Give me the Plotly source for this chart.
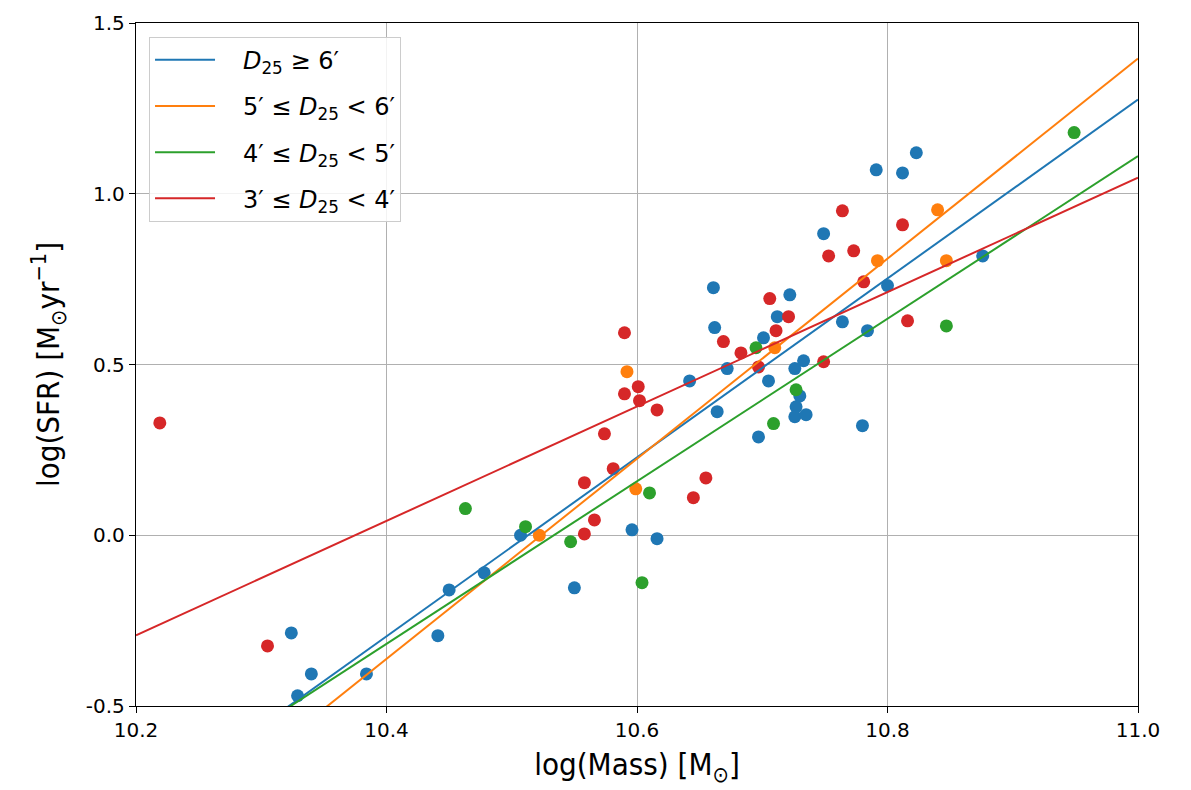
import plotly.graph_objects as go

# ---- data ----
blue_mass = [10.324, 10.329, 10.340, 10.384, 10.441, 10.450, 10.478, 10.507, 10.550, 10.596,
             10.616, 10.642, 10.661, 10.662, 10.672, 10.701, 10.712, 10.722, 10.705, 10.733,
             10.726, 10.764, 10.784, 10.664, 10.697, 10.780, 10.730, 10.727, 10.726, 10.735,
             10.749, 10.791, 10.812, 10.823, 10.800, 10.876]
blue_sfr = [-0.286, -0.470, -0.406, -0.406, -0.294, -0.160, -0.110, 0.000, -0.154, 0.016,
            -0.010, 0.452, 0.725, 0.608, 0.488, 0.578, 0.640, 0.704, 0.452, 0.511,
            0.488, 0.625, 0.599, 0.362, 0.288, 0.321, 0.408, 0.376, 0.347, 0.353,
            0.883, 1.070, 1.061, 1.120, 0.731, 0.818]

orange_mass = [10.522, 10.592, 10.599, 10.710, 10.792, 10.840, 10.847]
orange_sfr = [0.000, 0.479, 0.136, 0.549, 0.804, 0.953, 0.804]

green_mass = [10.463, 10.511, 10.547, 10.610, 10.604, 10.695, 10.727, 10.709, 10.847, 10.949]
green_sfr = [0.078, 0.025, -0.019, 0.124, -0.139, 0.549, 0.426, 0.327, 0.613, 1.179]

red_mass = [10.219, 10.305, 10.590, 10.590, 10.601, 10.602, 10.616, 10.574, 10.581, 10.558,
            10.566, 10.558, 10.645, 10.655, 10.669, 10.683, 10.706, 10.711, 10.721, 10.697,
            10.749, 10.753, 10.773, 10.781, 10.764, 10.812, 10.816]
red_sfr = [0.329, -0.324, 0.593, 0.414, 0.435, 0.394, 0.367, 0.297, 0.195, 0.154,
           0.045, 0.004, 0.110, 0.168, 0.567, 0.534, 0.693, 0.599, 0.640, 0.493,
           0.508, 0.818, 0.833, 0.742, 0.950, 0.909, 0.628]

# linear fits (value at log M = 10.2 and slope)
fit_value_at_10_2 = [-0.820, -0.948, -0.794, -0.293]
fit_slope = [2.62, 2.93, 2.38, 1.675]

labels = ["<i>D</i><sub>25</sub> ≥ 6′",
          "5′ ≤ <i>D</i><sub>25</sub> &lt; 6′",
          "4′ ≤ <i>D</i><sub>25</sub> &lt; 5′",
          "3′ ≤ <i>D</i><sub>25</sub> &lt; 4′"]
colors = ["#1f77b4", "#ff7f0e", "#2ca02c", "#d62728"]

x_range = [10.2, 11.0]
y_range = [-0.5, 1.5]
x_ticks = [10.2, 10.4, 10.6, 10.8, 11.0]
y_ticks = [-0.5, 0.0, 0.5, 1.0, 1.5]

groups = [(blue_mass, blue_sfr), (orange_mass, orange_sfr),
          (green_mass, green_sfr), (red_mass, red_sfr)]

fig = go.Figure()
for i, (mx, sy) in enumerate(groups):
    fig.add_trace(go.Scatter(x=mx, y=sy, mode="markers",
                             marker=dict(color=colors[i], size=13, line=dict(width=0)),
                             showlegend=False, cliponaxis=True))
for i in range(4):
    xs = x_range
    ys = [fit_value_at_10_2[i] + fit_slope[i] * (v - x_range[0]) for v in xs]
    fig.add_trace(go.Scatter(x=xs, y=ys, mode="lines",
                             name="&nbsp;&nbsp;&nbsp;" + labels[i],
                             legendgroup=f"g{i}",
                             line=dict(color=colors[i], width=2)))

axis_common = dict(showline=True, linecolor="black", linewidth=1.3, mirror=True,
                   showgrid=True, gridcolor="#b0b0b0", gridwidth=1,
                   ticks="outside", ticklen=6, tickwidth=1.2, tickcolor="black",
                   zeroline=False,
                   tickfont=dict(family="DejaVu Sans", size=20, color="black"))

title_font = dict(family="DejaVu Sans Condensed, DejaVu Sans", size=31, color="black")

fig.update_xaxes(range=x_range, tickvals=x_ticks, ticktext=[f"{v:.1f}" for v in x_ticks],
                 title=dict(text="log(Mass) [M<sub>⊙</sub>]", font=title_font, standoff=12),
                 **axis_common)
fig.update_yaxes(range=y_range, tickvals=y_ticks, ticktext=[f"{v:.1f}" for v in y_ticks],
                 title=dict(text="log(SFR) [M<sub>⊙</sub>yr<sup>−1</sup>]", font=title_font,
                            standoff=16),
                 **axis_common)

fig.update_layout(width=1191, height=790,
                  margin=dict(l=136, r=53, t=23, b=84),
                  plot_bgcolor="white", paper_bgcolor="white",
                  legend=dict(x=0.013, y=0.98, xanchor="left", yanchor="top",
                              bgcolor="rgba(255,255,255,0.85)", bordercolor="#cccccc", borderwidth=1,
                              font=dict(family="DejaVu Sans", size=24, color="black"),
                              itemwidth=60, tracegroupgap=12))

fig.write_html("out.html")
